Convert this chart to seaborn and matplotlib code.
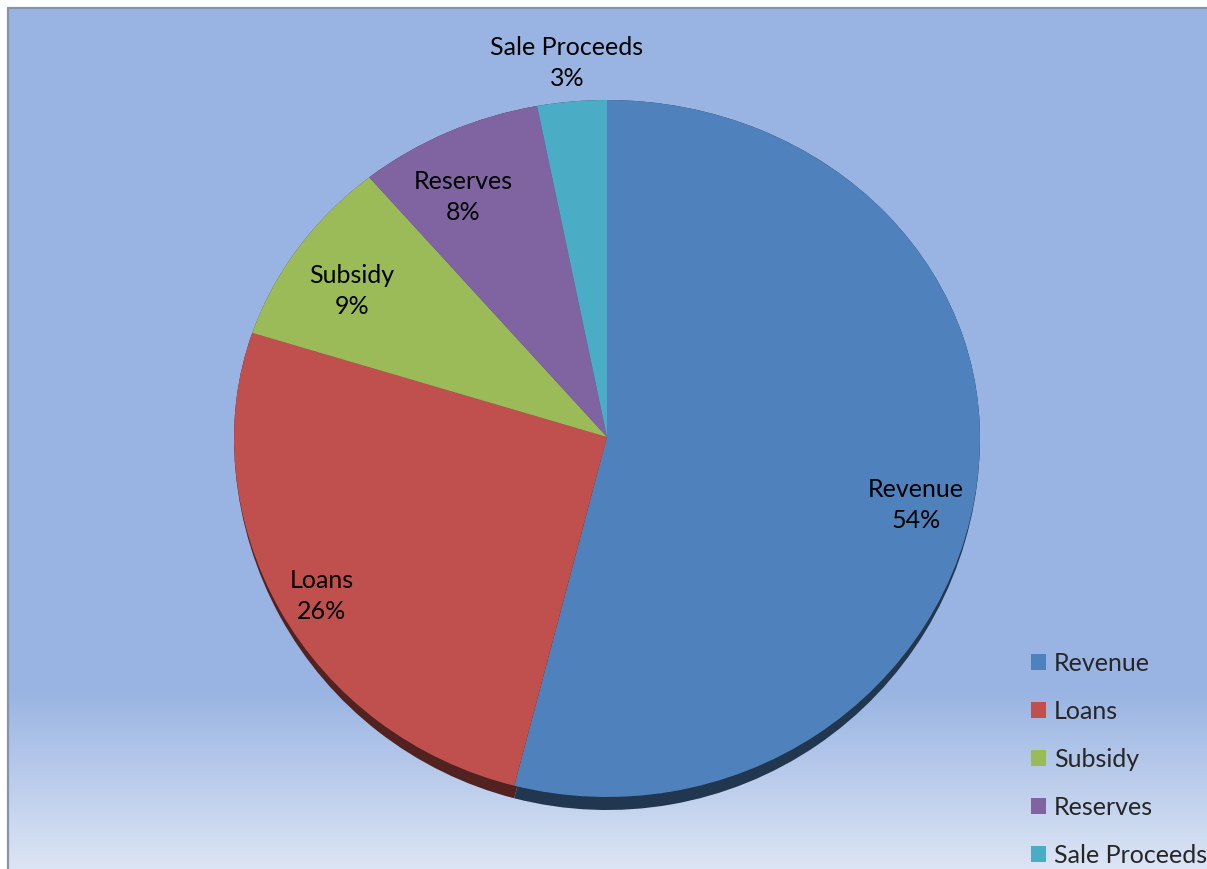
import numpy as np
import matplotlib
matplotlib.use("Agg")
import matplotlib.pyplot as plt
from matplotlib.colors import to_rgb
from matplotlib.lines import Line2D
from matplotlib.patches import PathPatch
from matplotlib.path import Path
import seaborn as sns

# Funding sources (percent of total)
categories = ["Revenue", "Loans", "Subsidy", "Reserves", "Sale Proceeds"]
shares = [54, 26, 9, 8, 3]
slice_colors = ["#4f81bd", "#c0504d", "#9bbb59", "#8064a2", "#4bacc6"]

sns.set_theme(style="white")
plt.rcParams["font.family"] = ["Lato", "DejaVu Sans"]

W, H = 1207, 869
fig = plt.figure(figsize=(W / 100, H / 100), dpi=100)
fig.patch.set_facecolor("white")

# chart area: flat blue fading to a pale band near the bottom
left_px, top_px = 8, 8
bg = fig.add_axes([left_px / W, 0, 1 - left_px / W, (H - top_px) / H])
rows = np.arange(top_px, H)
top_c = np.array(to_rgb("#99b4e3"))
bot_c = np.array(to_rgb("#dce5f4"))
t = np.clip((rows - 690) / (H - 690), 0, 1)[:, None]
grad = top_c * (1 - t) + bot_c * t
bg.imshow(grad[:, None, :], aspect="auto", extent=(0, 1, 0, 1))
bg.set_axis_off()

edge = "#8c93a6"
fig.add_artist(Line2D([left_px / W, left_px / W], [0, 1 - top_px / H],
                      transform=fig.transFigure, color=edge, lw=1.6))
fig.add_artist(Line2D([left_px / W, 1], [1 - top_px / H, 1 - top_px / H],
                      transform=fig.transFigure, color=edge, lw=1.6))

# pie axes in pixel units (y grows downward)
ax = fig.add_axes([0, 0, 1, 1])
ax.patch.set_alpha(0)

# tilted-disc projection: far half is flatter than the near half
cx, cy = 607, 437
rx, r_far, r_near = 373, 337, 360
depth = 13


def project(patch, near):
    path = patch.get_path()
    v = path.vertices.copy()
    x = cx + rx * v[:, 0]
    y = cy - np.where(v[:, 1] > 0, r_far, near) * v[:, 1]
    return Path(np.column_stack([x, y]), path.codes)


shadow_cols = [tuple(np.array(to_rgb(c)) * 0.42) for c in slice_colors]
base, _ = ax.pie(shares, colors=shadow_cols, startangle=90, counterclock=False,
                 wedgeprops=dict(linewidth=0))
top, _ = ax.pie(shares, colors=slice_colors, startangle=90, counterclock=False,
                wedgeprops=dict(linewidth=0))

faces = []
for w, col in zip(base, shadow_cols):
    ax.add_patch(PathPatch(project(w, r_near + depth), facecolor=col, lw=0, zorder=1))
    w.remove()
for w, col in zip(top, slice_colors):
    p = PathPatch(project(w, r_near), facecolor=col, lw=0, zorder=2)
    ax.add_patch(p)
    faces.append(p)
    w.remove()

ax.set_aspect("auto")
ax.set_xlim(0, W)
ax.set_ylim(H, 0)
ax.set_axis_off()

# data label anchors, best-fit style placement
label_pos = {
    "Revenue": (916, 505),
    "Loans": (322, 596),
    "Subsidy": (352, 291),
    "Reserves": (463, 197),
    "Sale Proceeds": (567, 63),
}
for name, val in zip(categories, shares):
    x, y = label_pos[name]
    ax.text(x, y, f"{name}\n{val}%", ha="center", va="center",
            fontsize=18, color="black", linespacing=1.45, zorder=3)

fig.legend(faces, categories, loc="upper left",
           bbox_to_anchor=(1031 / W, 1 - 652 / H), frameon=False,
           fontsize=18, handlelength=0.6, handleheight=0.6,
           handletextpad=0.32, labelspacing=1.0, borderpad=0, borderaxespad=0)

fig.savefig("out.png", dpi=100)
